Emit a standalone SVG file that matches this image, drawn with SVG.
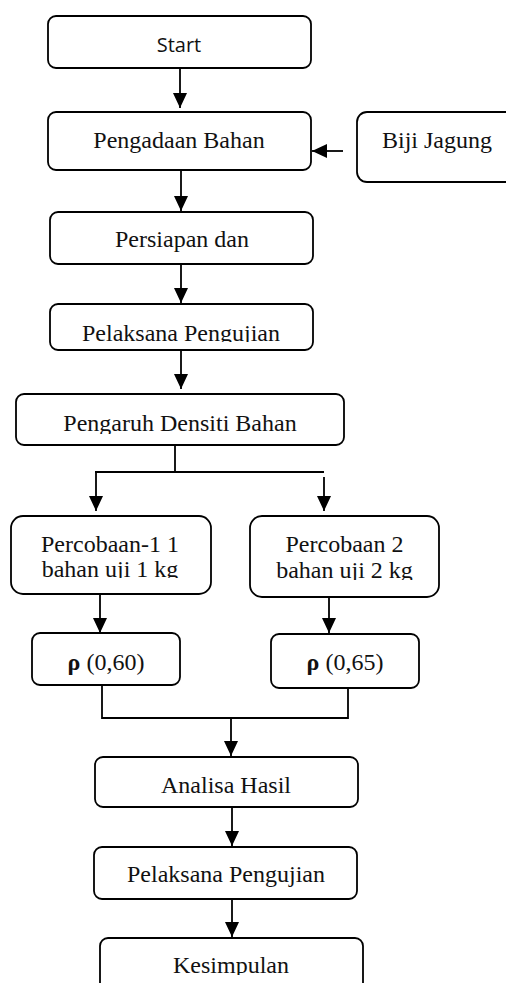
<svg xmlns="http://www.w3.org/2000/svg" width="506" height="983" viewBox="0 0 506 983">
<style>
.box{fill:#fff;stroke:#000;stroke-width:1.8}
.t{font-family:"Liberation Serif","Times New Roman",serif;font-size:24px;fill:#111;text-anchor:middle}
.s{font-family:"Open Sans","Liberation Sans",sans-serif;font-size:20px;fill:#111;text-anchor:middle}
.ln{fill:none;stroke:#000;stroke-width:1.8}
</style>
<defs>
<marker id="arr" viewBox="0 0 15 14" refX="15" refY="7" markerWidth="15" markerHeight="14" markerUnits="userSpaceOnUse" orient="auto">
<path d="M0,0 L15,7 L0,14 Z" fill="#000"/>
</marker>
<clipPath id="c1"><rect x="0" y="300" width="506" height="42"/></clipPath>
<clipPath id="c2"><rect x="0" y="390" width="506" height="44"/></clipPath>
<clipPath id="c3"><rect x="0" y="510" width="506" height="68"/></clipPath>
<clipPath id="c4"><rect x="0" y="510" width="506" height="70"/></clipPath>
<clipPath id="c5"><rect x="0" y="930" width="506" height="45"/></clipPath>
</defs>
<g id="connectors">
<line class="ln" x1="180" y1="69" x2="180" y2="108" marker-end="url(#arr)"/>
<line class="ln" x1="343" y1="151" x2="312" y2="151" marker-end="url(#arr)"/>
<line class="ln" x1="181" y1="171" x2="181" y2="211" marker-end="url(#arr)"/>
<line class="ln" x1="181" y1="264" x2="181" y2="303" marker-end="url(#arr)"/>
<line class="ln" x1="181" y1="350" x2="181" y2="389" marker-end="url(#arr)"/>
<polyline class="ln" points="175,440 175,472"/>
<polyline class="ln" points="95,472 324,472"/>
<line class="ln" x1="96" y1="472" x2="96" y2="511" marker-end="url(#arr)"/>
<line class="ln" x1="324" y1="477" x2="324" y2="511" marker-end="url(#arr)"/>
<line class="ln" x1="100" y1="594" x2="100" y2="633" marker-end="url(#arr)"/>
<line class="ln" x1="329" y1="594" x2="329" y2="633" marker-end="url(#arr)"/>
<polyline class="ln" points="102,685 102,718 348,718 348,685"/>
<line class="ln" x1="231" y1="718" x2="231" y2="756" marker-end="url(#arr)"/>
<line class="ln" x1="232" y1="807" x2="232" y2="846" marker-end="url(#arr)"/>
<line class="ln" x1="232" y1="899" x2="232" y2="937" marker-end="url(#arr)"/>
</g>
<g id="start">
<rect class="box" x="48" y="16" width="263" height="52" rx="8"/>
<text class="s" x="179" y="52">Start</text>
</g>
<g id="pengadaan">
<rect class="box" x="48" y="112" width="263" height="58" rx="8"/>
<text class="t" x="179" y="148">Pengadaan Bahan</text>
</g>
<g id="biji">
<rect class="box" x="357" y="112" width="170" height="70" rx="10"/>
<text class="t" x="437" y="148">Biji Jagung</text>
</g>
<g id="persiapan">
<rect class="box" x="50" y="212" width="263" height="52" rx="8"/>
<text class="t" x="182" y="247">Persiapan dan</text>
</g>
<g id="pelaksana1">
<rect class="box" x="50" y="304" width="263" height="46" rx="8"/>
<text class="t" x="181" y="341" clip-path="url(#c1)">Pelaksana Pengujian</text>
</g>
<g id="pengaruh">
<rect class="box" x="16" y="394" width="328" height="51" rx="8"/>
<text class="t" x="180" y="431" clip-path="url(#c2)">Pengaruh Densiti Bahan</text>
</g>
<g id="percobaan1">
<rect class="box" x="11" y="516" width="200" height="78" rx="12"/>
<text class="t" x="110" y="552" clip-path="url(#c3)">Percobaan-1 1</text>
<text class="t" x="110" y="577" clip-path="url(#c3)">bahan uji 1 kg</text>
</g>
<g id="percobaan2">
<rect class="box" x="250" y="516" width="189" height="81" rx="12"/>
<text class="t" x="344.5" y="552" clip-path="url(#c4)">Percobaan 2</text>
<text class="t" x="344.5" y="578" clip-path="url(#c4)">bahan uji 2 kg</text>
</g>
<g id="rho1">
<rect class="box" x="32" y="633" width="148" height="52" rx="8"/>
<text class="t" x="106" y="670"><tspan font-weight="bold">ρ</tspan> (0,60)</text>
</g>
<g id="rho2">
<rect class="box" x="271" y="634" width="148" height="54" rx="8"/>
<text class="t" x="345" y="670"><tspan font-weight="bold">ρ</tspan> (0,65)</text>
</g>
<g id="analisa">
<rect class="box" x="95" y="757" width="263" height="50" rx="8"/>
<text class="t" x="226" y="793">Analisa Hasil</text>
</g>
<g id="pelaksana2">
<rect class="box" x="94" y="847" width="263" height="52" rx="8"/>
<text class="t" x="226" y="882">Pelaksana Pengujian</text>
</g>
<g id="kesimpulan">
<rect class="box" x="100" y="938" width="263" height="70" rx="8"/>
<text class="t" x="231" y="973" clip-path="url(#c5)">Kesimpulan</text>
</g>
</svg>
